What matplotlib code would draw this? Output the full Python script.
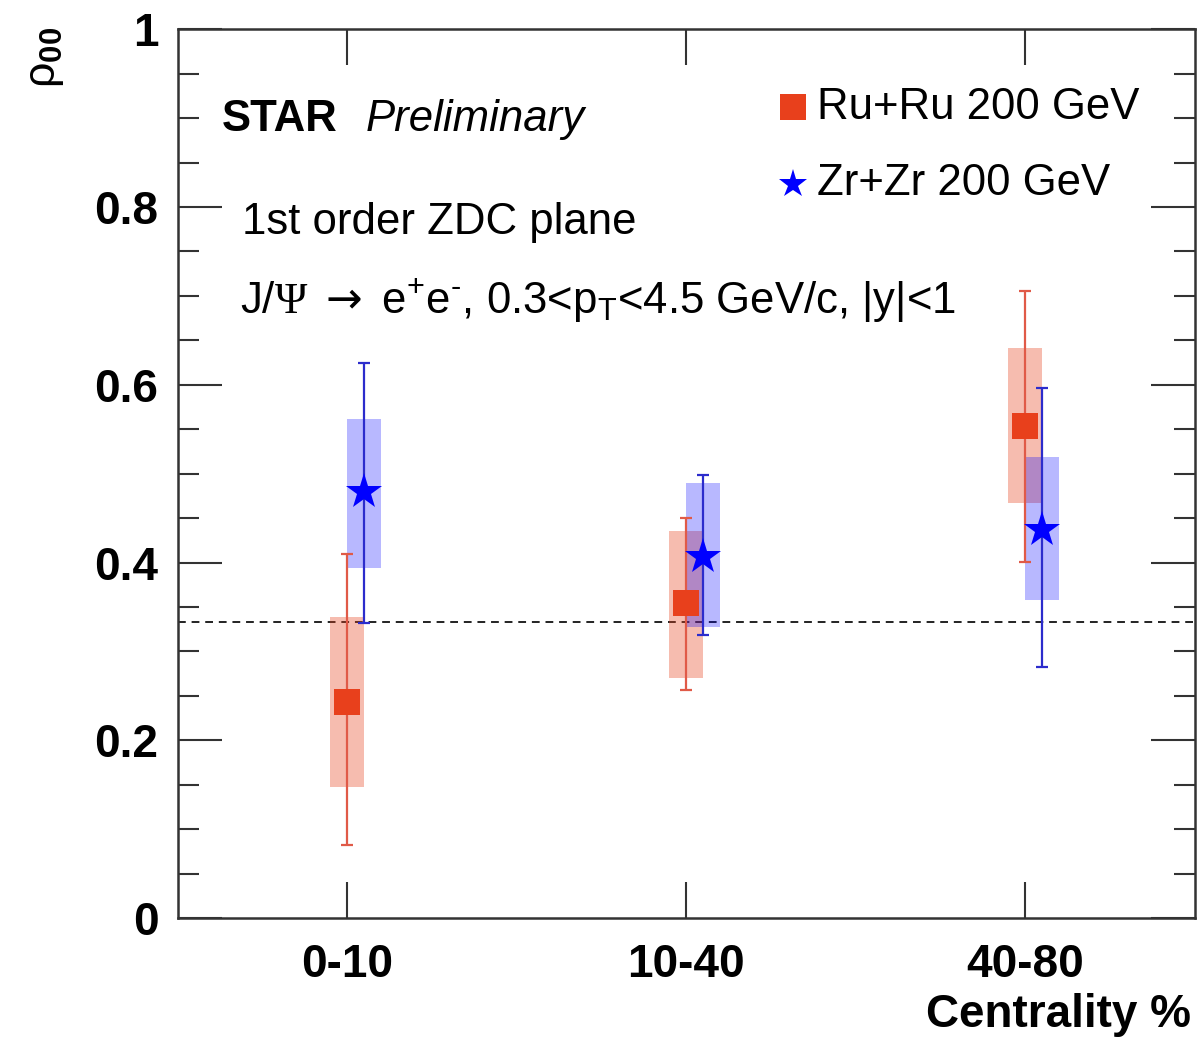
import matplotlib

matplotlib.use("Agg")

import matplotlib.pyplot as plt
from matplotlib.patches import Rectangle
from matplotlib.ticker import FuncFormatter, MultipleLocator

plt.rcParams["font.family"] = ["Liberation Sans", "DejaVu Sans"]
plt.rcParams["mathtext.fontset"] = "custom"
plt.rcParams["mathtext.rm"] = "Liberation Sans"
plt.rcParams["mathtext.it"] = "Liberation Sans:italic"
plt.rcParams["mathtext.bf"] = "Liberation Sans:bold"
# serif face for the Greek Psi and a wider arrow in the decay label
plt.rcParams["mathtext.tt"] = "Liberation Serif"
plt.rcParams["mathtext.sf"] = "DejaVu Sans"

centrality = ["0-10", "10-40", "40-80"]

# Ru+Ru: central value, statistical error range, systematic box range
ru_val = [0.243, 0.354, 0.554]
ru_stat_lo = [0.082, 0.257, 0.401]
ru_stat_hi = [0.410, 0.450, 0.705]
ru_sys_lo = [0.148, 0.270, 0.467]
ru_sys_hi = [0.339, 0.435, 0.641]

# Zr+Zr
zr_val = [0.479, 0.406, 0.437]
zr_stat_lo = [0.332, 0.319, 0.282]
zr_stat_hi = [0.624, 0.498, 0.596]
zr_sys_lo = [0.394, 0.327, 0.358]
zr_sys_hi = [0.562, 0.490, 0.519]

unpolarized = 1.0 / 3.0

RU_COLOR = "#e8401c"
ZR_COLOR = "#0000ff"
BOX_HALF = 0.05
ZR_SHIFT = 0.05
TEXT_SIZE = 31.5

fig = plt.figure(figsize=(12.01, 10.41), dpi=100)
ax = fig.add_axes([0.148, 0.118, 0.847, 0.854])


def draw_series(xs, val, lo, hi, slo, shi, color, marker, msize, box_alpha, line_color):
    for x, s0, s1 in zip(xs, slo, shi):
        ax.add_patch(Rectangle((x - BOX_HALF, s0), 2 * BOX_HALF, s1 - s0,
                               facecolor=color, alpha=box_alpha, edgecolor="none", zorder=2))
    yerr = [[v - l for v, l in zip(val, lo)], [h - v for v, h in zip(val, hi)]]
    ax.errorbar(xs, val, yerr=yerr, fmt="none", ecolor=line_color, elinewidth=1.6,
                capsize=4, capthick=1.6, zorder=3)
    ax.plot(xs, val, linestyle="none", marker=marker, markersize=msize,
            color=color, markeredgewidth=0, zorder=4)


pos = list(range(len(centrality)))
ru_x = pos
zr_x = [p + ZR_SHIFT for p in pos]

ax.axhline(unpolarized, color="#222222", linestyle=(0, (4, 3)), linewidth=1.4, zorder=1)
draw_series(ru_x, ru_val, ru_stat_lo, ru_stat_hi, ru_sys_lo, ru_sys_hi,
            RU_COLOR, "s", 19, 0.35, "#e05a48")
draw_series(zr_x, zr_val, zr_stat_lo, zr_stat_hi, zr_sys_lo, zr_sys_hi,
            ZR_COLOR, "*", 27, 0.28, "#2c2ccc")

ax.set_xlim(-0.5, 2.5)
ax.set_ylim(0, 1)
ax.set_xticks(pos)
ax.set_xticklabels(centrality)
ax.yaxis.set_major_locator(MultipleLocator(0.2))
ax.yaxis.set_minor_locator(MultipleLocator(0.05))
ax.yaxis.set_major_formatter(FuncFormatter(lambda v, _: f"{v:g}"))
ax.tick_params(axis="both", which="major", direction="in", labelsize=33,
               color="#333333", width=1.5)
ax.tick_params(axis="y", which="major", length=32, right=True, pad=14)
ax.tick_params(axis="y", which="minor", direction="in", length=15, right=True,
               color="#333333", width=1.5)
ax.tick_params(axis="x", which="major", length=26, pad=18, top=True)
for lab in ax.get_xticklabels() + ax.get_yticklabels():
    lab.set_fontweight("bold")
for spine in ax.spines.values():
    spine.set_linewidth(1.8)
    spine.set_color("#333333")

fig.text(0.038, 0.974, r"ρ$_{\mathbf{00}}$", rotation=90, fontsize=32,
         ha="center", va="top")
fig.text(0.992, 0.025, "Centrality %", fontsize=33, fontweight="bold",
         ha="right", va="center")

ax.text(0.043, 0.898, "STAR", transform=ax.transAxes, fontsize=TEXT_SIZE,
        fontweight="bold", va="center")
ax.text(0.185, 0.898, "Preliminary", transform=ax.transAxes, fontsize=TEXT_SIZE,
        style="italic", va="center")
ax.text(0.063, 0.783, "1st order ZDC plane", transform=ax.transAxes,
        fontsize=TEXT_SIZE, va="center")
ax.text(0.061, 0.695,
        r"J/$\mathtt{\Psi}$ $\mathsf{\rightarrow}$ e$^{+}$e$^{\text{-}}$, "
        r"0.3<p$_{\rm T}$<4.5 GeV/c, |y|<1",
        transform=ax.transAxes, fontsize=TEXT_SIZE, va="center")

# legend drawn as marker + label pairs
ax.plot([0.605], [0.912], transform=ax.transAxes, marker="s", markersize=19,
        color=RU_COLOR, markeredgewidth=0, linestyle="none")
ax.text(0.628, 0.912, "Ru+Ru 200 GeV", transform=ax.transAxes, fontsize=TEXT_SIZE,
        va="center")
ax.plot([0.605], [0.826], transform=ax.transAxes, marker="*", markersize=21,
        color=ZR_COLOR, markeredgewidth=0, linestyle="none")
ax.text(0.628, 0.826, "Zr+Zr 200 GeV", transform=ax.transAxes, fontsize=TEXT_SIZE,
        va="center")

fig.savefig("out.png", dpi=100)
